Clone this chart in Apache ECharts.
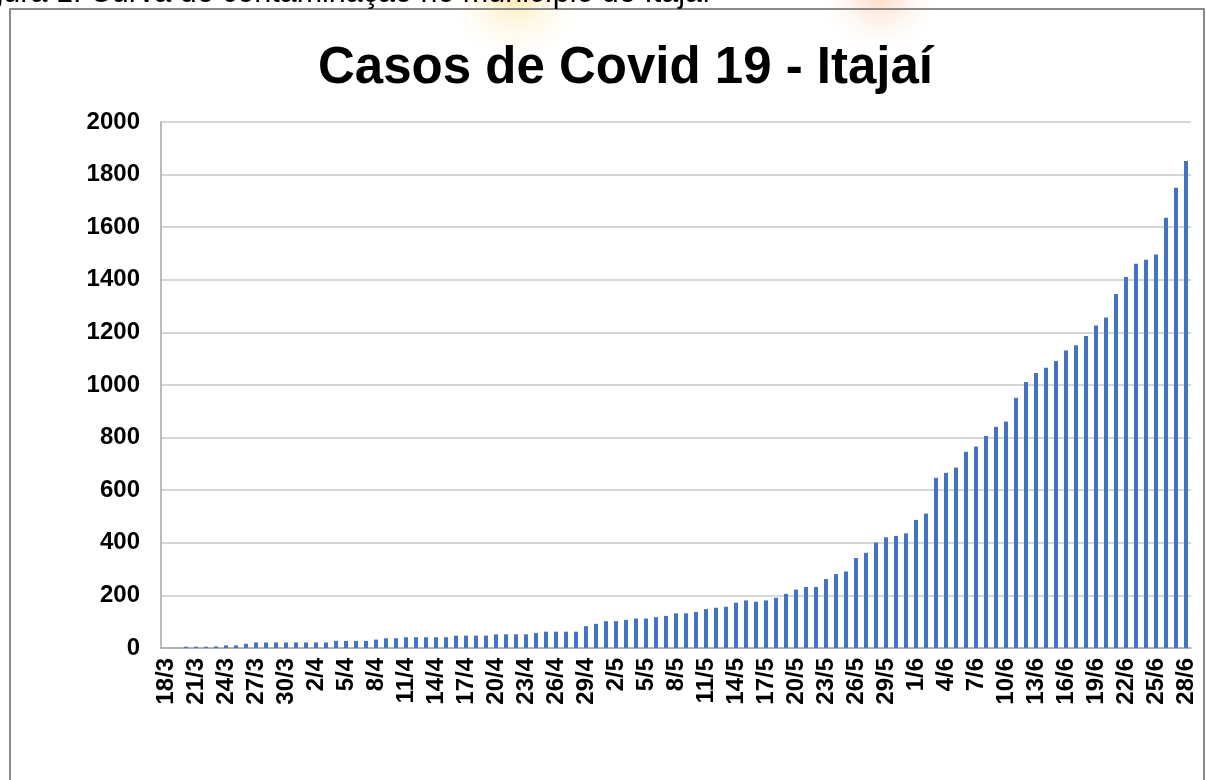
<!DOCTYPE html>
<html>
<head>
<meta charset="utf-8">
<script src="https://cdn.jsdelivr.net/npm/echarts@6/dist/echarts.min.js"></script>
<style>
  html, body { margin: 0; padding: 0; background: #fff; }
  #chart { width: 1206px; height: 780px; }
</style>
</head>
<body>
<div id="chart"></div>
<script>
  // dias de 18/3 a 28/6
  const dias = [
    '18/3','19/3','20/3','21/3','22/3','23/3','24/3','25/3','26/3','27/3','28/3','29/3','30/3','31/3',
    '1/4','2/4','3/4','4/4','5/4','6/4','7/4','8/4','9/4','10/4','11/4','12/4','13/4','14/4','15/4',
    '16/4','17/4','18/4','19/4','20/4','21/4','22/4','23/4','24/4','25/4','26/4','27/4','28/4','29/4','30/4',
    '1/5','2/5','3/5','4/5','5/5','6/5','7/5','8/5','9/5','10/5','11/5','12/5','13/5','14/5','15/5',
    '16/5','17/5','18/5','19/5','20/5','21/5','22/5','23/5','24/5','25/5','26/5','27/5','28/5','29/5',
    '30/5','31/5',
    '1/6','2/6','3/6','4/6','5/6','6/6','7/6','8/6','9/6','10/6','11/6','12/6','13/6','14/6','15/6',
    '16/6','17/6','18/6','19/6','20/6','21/6','22/6','23/6','24/6','25/6','26/6','27/6','28/6'
  ]
  // casos acumulados
  const casos = [
    0, 0, 5, 5, 5, 6, 10, 10, 16, 21, 21, 21, 21, 21,
    21, 21, 21, 27, 27, 27, 27, 32, 37, 37, 41, 41, 41, 41, 41,
    47, 47, 47, 47, 52, 52, 52, 52, 57, 62, 62, 62, 62, 83, 92,
    102, 102, 107, 112, 112, 117, 122, 132, 132, 137, 148, 153, 157, 172, 181,
    176, 181, 191, 206, 222, 232, 232, 262, 281, 291, 342, 362, 401,
    421, 426,
    436, 487, 511, 647, 666, 686, 746, 766, 806, 841, 861, 951, 1011, 1046, 1066,
    1091, 1131, 1151, 1186, 1226, 1257, 1346, 1411, 1461, 1476, 1496, 1636, 1750, 1852
  ]
  const titulo = 'Casos de Covid 19 - Itajaí'
  const legenda = 'Figura 1: Curva de contaminação no município de Itajaí'

  const fonte = "'Liberation Sans', Arial, sans-serif"
  const myChart = echarts.init(document.getElementById('chart'))

  const mancha = (cx, r, cor) => ({
    type: 'circle',
    shape: { cx: cx, cy: -8, r: r },
    style: {
      fill: new echarts.graphic.RadialGradient(0.5, 0.5, 0.5, [
        { offset: 0, color: cor },
        { offset: 1, color: 'rgba(255,255,255,0)' }
      ])
    },
    silent: true,
    z: -1
  })

  const option = {
    backgroundColor: '#fff',
    animation: false,
    title: {
      text: titulo,
      left: 318,
      top: 43,
      padding: 0,
      textStyle: {
        fontFamily: fonte,
        fontSize: 51,
        fontWeight: 'bold',
        color: '#000'
      }
    },
    graphic: [
      mancha(515, 75, 'rgba(255,200,60,0.45)'),
      mancha(880, 65, 'rgba(255,130,60,0.35)'),
      {
        type: 'rect',
        shape: { x: 10, y: 9, width: 1194, height: 800 },
        style: { fill: 'none', stroke: '#8a8a8a', lineWidth: 2 },
        silent: true
      },
      {
        type: 'text',
        x: -39,
        y: 9,
        style: {
          text: legenda,
          font: "30.5px 'Liberation Sans', Arial, sans-serif",
          fill: '#000',
          verticalAlign: 'bottom'
        },
        silent: true
      }
    ],
    grid: {
      left: 161,
      right: 15,
      top: 122,
      bottom: 132,
      containLabel: false
    },
    xAxis: [{
      type: 'category',
      data: dias,
      axisLine: { show: true, lineStyle: { color: '#a6a6a6', width: 1.5 } },
      axisTick: { show: false },
      axisLabel: {
        interval: 2,
        rotate: 90,
        margin: 10,
        fontFamily: fonte,
        fontSize: 24,
        fontWeight: 'bold',
        color: '#000'
      }
    }],
    yAxis: [{
      type: 'value',
      min: 0,
      max: 2000,
      interval: 200,
      axisLine: { show: true, lineStyle: { color: '#a6a6a6', width: 1.5 } },
      axisTick: { show: false },
      splitLine: { lineStyle: { color: '#c8c8c8', width: 1.5 } },
      axisLabel: {
        margin: 21,
        formatter: v => String(v),
        fontFamily: fonte,
        fontSize: 24,
        fontWeight: 'bold',
        color: '#000'
      }
    }],
    series: [{
      name: 'Casos',
      type: 'bar',
      barWidth: 4,
      itemStyle: { color: '#4472C4' },
      data: casos
    }]
  }
  myChart.setOption(option)
</script>
</body>
</html>
